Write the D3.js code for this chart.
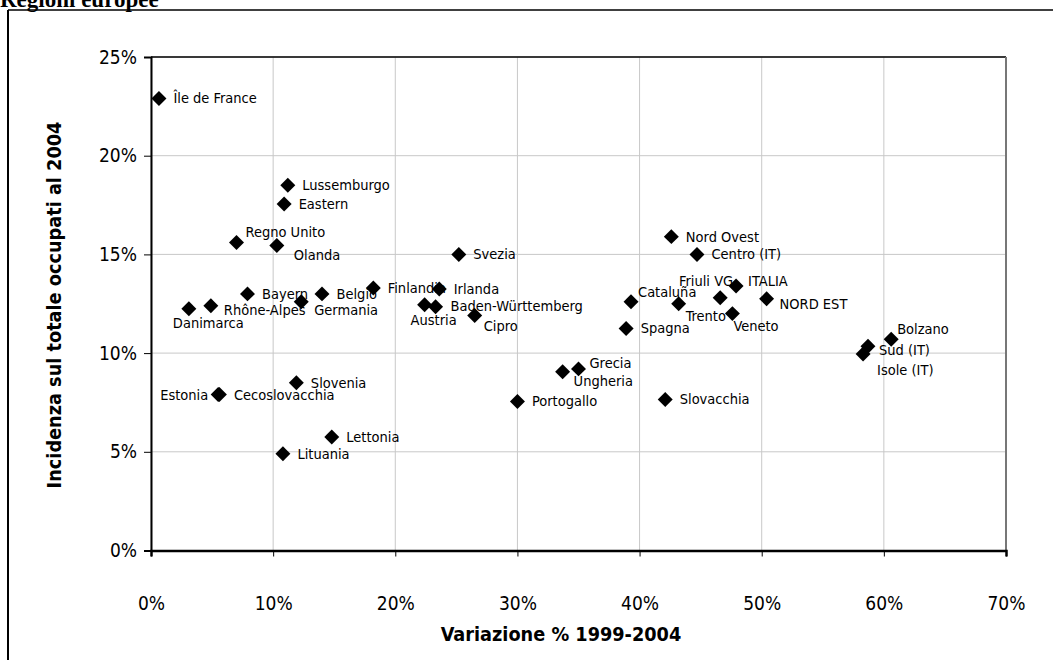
<!DOCTYPE html>
<html lang="it">
<head>
<meta charset="utf-8">
<title>Regioni europee</title>
<script src="https://cdn.jsdelivr.net/npm/d3@7"></script>
<style>
    html, body { margin: 0; padding: 0; background: #fff; }
    svg { display: block; }
    .grid line { stroke: #c8c8c8; stroke-width: 1; }
    .axis path, .axis line { stroke: #000; }
    .axis text { font-family: "DejaVu Sans Condensed", "DejaVu Sans", sans-serif; font-size: 19px; fill: #000; }
    .lbl { font-family: "DejaVu Sans Condensed", "DejaVu Sans", sans-serif; font-size: 14.5px; fill: #000; }
    .atitle { font-family: "DejaVu Sans Condensed", "DejaVu Sans", sans-serif; font-size: 19.7px; font-weight: bold; fill: #000; }
</style>
</head>
<body>
<div id="chart"></div>
<script>
// data (percent values)
var regions = ["Île de France", "Lussemburgo", "Eastern", "Regno Unito", "Olanda", "Svezia",
    "Bayern", "Belgio", "Germania", "Danimarca", "Rhône-Alpes", "Finlandia", "Irlanda",
    "Austria", "Baden-Württemberg", "Cipro", "Slovenia", "Estonia", "Cecoslovacchia",
    "Lettonia", "Lituania", "Grecia", "Ungheria", "Portogallo", "Cataluña", "Spagna",
    "Slovacchia", "Nord Ovest", "Centro (IT)", "Trento", "Friuli VG", "ITALIA", "Veneto",
    "NORD EST", "Bolzano", "Sud (IT)", "Isole (IT)"];
var variazione = [0.65, 11.2, 10.9, 7.0, 10.3, 25.2,
    7.9, 14.0, 12.3, 3.1, 4.9, 18.2, 23.6,
    22.4, 23.3, 26.5, 11.9, 5.5, 5.6,
    14.8, 10.8, 35.0, 33.7, 30.0, 39.3, 38.9,
    42.1, 42.6, 44.7, 43.2, 46.6, 47.9, 47.6,
    50.4, 60.6, 58.7, 58.3];
var incidenza = [22.9, 18.5, 17.55, 15.6, 15.45, 15.0,
    13.0, 13.0, 12.6, 12.25, 12.4, 13.3, 13.25,
    12.45, 12.35, 11.9, 8.5, 7.9, 7.9,
    5.75, 4.9, 9.2, 9.05, 7.55, 12.6, 11.25,
    7.65, 15.9, 15.0, 12.5, 12.8, 13.4, 12.0,
    12.75, 10.7, 10.35, 9.95];
var xTicks = [0, 10, 20, 30, 40, 50, 60, 70];
var yTicks = [0, 5, 10, 15, 20, 25];

// where each label sits relative to its marker (default: right of it)
var labelPlace = {
    "Regno Unito": [9, -6], "Olanda": [17, 14], "Germania": [13, 13], "Rhône-Alpes": [13, 9],
    "Danimarca": [-16, 19], "Austria": [-14, 20], "Baden-Württemberg": [15, 4], "Cipro": [9, 15],
    "Estonia": [-10, 5, "end"], "Grecia": [11, -1], "Ungheria": [11, 14], "Cataluña": [7, -5],
    "Trento": [7, 17], "Friuli VG": [13, -12, "end"], "ITALIA": [12, 0], "Veneto": [1, 17],
    "NORD EST": [13, 10], "Bolzano": [6, -5], "Sud (IT)": [11, 9], "Isole (IT)": [14, 21]
};

var width = 1053, height = 660;
var margin = {top: 57, right: 47, bottom: 110, left: 151};

var svg = d3.select("#chart").append("svg")
    .attr("width", width)
    .attr("height", height);

// title, mostly cut off at the top
svg.append("text")
    .attr("x", 0)
    .attr("y", 7)
    .style("font-family", "'Liberation Serif', 'Times New Roman', serif")
    .style("font-size", "23px")
    .style("font-weight", "bold")
    .text("Regioni europee");

// outer chart frame (runs off the page right and bottom)
svg.append("line").attr("x1", 8).attr("y1", 10).attr("x2", 8).attr("y2", height)
    .attr("stroke", "#000").attr("stroke-width", 2);
svg.append("line").attr("x1", 8).attr("y1", 10).attr("x2", width).attr("y2", 10)
    .attr("stroke", "#000").attr("stroke-width", 1.5);

var x = d3.scaleLinear().domain([0, 70]).range([margin.left, width - margin.right]);
var y = d3.scaleLinear().domain([0, 25]).range([height - margin.bottom + 0.5, margin.top]);

// gridlines
var grid = svg.append("g").attr("class", "grid");
grid.selectAll(".vx").data(xTicks).enter().append("line")
    .attr("x1", function(d) { return x(d); })
    .attr("x2", function(d) { return x(d); })
    .attr("y1", y(0))
    .attr("y2", y(25));
grid.selectAll(".hy").data(yTicks).enter().append("line")
    .attr("x1", x(0))
    .attr("x2", x(70))
    .attr("y1", function(d) { return y(d); })
    .attr("y2", function(d) { return y(d); });

// plot area border
svg.append("line").attr("x1", x(0)).attr("x2", x(70)).attr("y1", y(25)).attr("y2", y(25))
    .attr("stroke", "#000").attr("stroke-width", 1.5);
svg.append("line").attr("x1", x(70)).attr("x2", x(70)).attr("y1", y(25)).attr("y2", y(0))
    .attr("stroke", "#777").attr("stroke-width", 2);

// axes
svg.append("g")
    .attr("class", "axis")
    .attr("transform", "translate(0," + y(0) + ")")
    .call(d3.axisBottom(x).tickValues(xTicks).tickSize(6).tickPadding(40)
        .tickFormat(function(d) { return d + "%"; }))
    .call(function(g) { g.select(".domain").attr("stroke", "#333").attr("stroke-width", 2.5); });

svg.append("g")
    .attr("class", "axis")
    .attr("transform", "translate(" + x(0) + ",0)")
    .call(d3.axisLeft(y).tickValues(yTicks).tickSize(7).tickPadding(7)
        .tickFormat(function(d) { return d + "%"; }))
    .call(function(g) { g.select(".domain").attr("stroke-width", 2); });

// axis titles
svg.append("text")
    .attr("class", "atitle")
    .attr("x", 561)
    .attr("y", 641)
    .attr("text-anchor", "middle")
    .text("Variazione % 1999-2004");

svg.append("text")
    .attr("class", "atitle")
    .attr("transform", "translate(61," + 305 + ") rotate(-90)")
    .attr("text-anchor", "middle")
    .text("Incidenza sul totale occupati al 2004");

// points
var points = regions.map(function(r, i) {
    return {name: r, vx: variazione[i], vy: incidenza[i]};
});

var diamond = d3.symbol().type(d3.symbolSquare).size(112);

svg.append("g")
    .selectAll("path")
    .data(points)
    .enter().append("path")
    .attr("d", diamond)
    .attr("fill", "#000")
    .attr("transform", function(d) {
        return "translate(" + x(d.vx) + "," + y(d.vy) + ") rotate(45)";
    });

svg.append("g")
    .selectAll("text")
    .data(points)
    .enter().append("text")
    .attr("class", "lbl")
    .attr("x", function(d) {
        var p = labelPlace[d.name];
        return x(d.vx) + (p ? p[0] : 14.5);
    })
    .attr("y", function(d) {
        var p = labelPlace[d.name];
        return y(d.vy) + (p ? p[1] : 5);
    })
    .attr("text-anchor", function(d) {
        var p = labelPlace[d.name];
        return p && p[2] ? p[2] : "start";
    })
    .text(function(d) { return d.name; });
</script>
</body>
</html>
